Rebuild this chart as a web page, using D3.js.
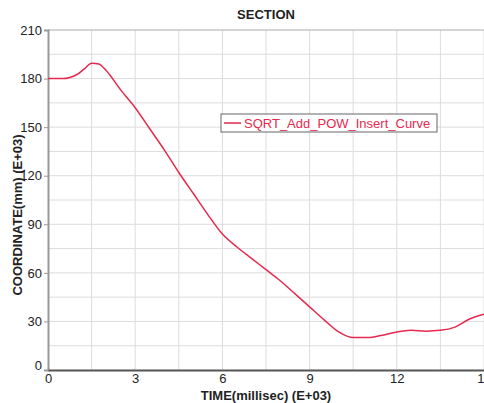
<!DOCTYPE html>
<html>
<head>
<meta charset="utf-8">
<script src="https://cdn.jsdelivr.net/npm/d3@7"></script>
<style>
  body { margin: 0; background: #fff; }
  svg { font-family: "Liberation Sans", Arial, sans-serif; display: block; }
</style>
</head>
<body>
<div id="chart"></div>
<script>
// Curve data (time in E+03 millisec, coordinate in E+03 mm)
const times = [0, 0.5, 1.0, 1.25, 1.5, 1.75, 2.0, 2.5, 3.0, 3.5, 4.0, 4.5, 5.0, 5.5, 6.0, 6.5, 7.0, 7.5,
    8.0, 8.5, 9.0, 9.5, 10.0, 10.5, 11.0, 11.5, 12.0, 12.5, 13.0, 13.5, 14.0, 14.5, 15.0];
const coords = [180, 180, 182.5, 186, 189.5, 189, 185, 173, 162, 149, 136, 122, 109, 96, 84, 76, 69, 62,
    55, 47, 39, 31, 23.5, 20, 20, 21.5, 23.5, 24.5, 24, 24.5, 26.5, 31.5, 34.5];
const xTicks = [0, 3, 6, 9, 12, 15];
const yTicks = [0, 30, 60, 90, 120, 150, 180, 210];
const seriesName = "SQRT_Add_POW_Insert_Curve";

const W = 484, H = 403;
const margin = {top: 30, right: 0, bottom: 33, left: 48};
const width = W - margin.left - margin.right;
const height = H - margin.top - margin.bottom;

const svg = d3.select("#chart").append("svg")
    .attr("width", W)
    .attr("height", H);

const g = svg.append("g")
    .attr("transform", `translate(${margin.left},${margin.top})`);

const x = d3.scaleLinear().domain([0, 15]).range([0, width]);
const y = d3.scaleLinear().domain([0, 210]).range([height, 0]);

// Grid (major + minor)
g.append("g").selectAll("line")
    .data(d3.range(1.5, 15.01, 1.5))
    .enter().append("line")
    .attr("x1", d => x(d)).attr("x2", d => x(d))
    .attr("y1", 0).attr("y2", height)
    .attr("stroke", "#dcdcdc");

g.append("g").selectAll("line")
    .data(d3.range(15, 210, 15))
    .enter().append("line")
    .attr("x1", 0).attr("x2", width)
    .attr("y1", d => y(d)).attr("y2", d => y(d))
    .attr("stroke", "#dcdcdc");

// Top border
g.append("line")
    .attr("x1", 0).attr("x2", width)
    .attr("y1", 0).attr("y2", 0)
    .attr("stroke", "#aaa");

// Y axis
const yAxis = g.append("g")
    .call(d3.axisLeft(y).tickValues(yTicks).tickSize(4).tickPadding(2));
yAxis.select(".domain").attr("stroke", "#999").attr("stroke-width", 2);
yAxis.selectAll(".tick line").attr("stroke", "#999");
yAxis.selectAll(".tick text")
    .style("font-size", "13px").attr("fill", "#222");
yAxis.selectAll(".tick").filter(d => d === 0).select("text").attr("dy", "-0.05em");

// X axis
const xAxis = g.append("g")
    .attr("transform", `translate(0,${height})`)
    .call(d3.axisBottom(x).tickValues(xTicks).tickSize(0).tickPadding(4));
xAxis.select(".domain").attr("stroke", "#555").attr("stroke-width", 2);
xAxis.selectAll(".tick text")
    .style("font-size", "13px").attr("fill", "#222");

// Curve
const line = d3.line()
    .x((d, i) => x(times[i]))
    .y(d => y(d))
    .curve(d3.curveMonotoneX);

g.append("path")
    .datum(coords)
    .attr("d", line)
    .attr("fill", "none")
    .attr("stroke", "#e5294f")
    .attr("stroke-width", 1.5);

// Legend
const legend = svg.append("g").attr("transform", "translate(221,114)");
legend.append("rect")
    .attr("width", 216).attr("height", 18)
    .attr("fill", "#fff")
    .attr("stroke", "#666");
legend.append("line")
    .attr("x1", 3).attr("x2", 20)
    .attr("y1", 9).attr("y2", 9)
    .attr("stroke", "#e5294f").attr("stroke-width", 1.5);
legend.append("text")
    .attr("x", 23).attr("y", 9).attr("dy", "0.36em")
    .attr("fill", "#e5294f")
    .style("font-size", "13px")
    .text(seriesName);

// Title and axis labels
svg.append("text")
    .attr("x", margin.left + width / 2).attr("y", 19)
    .attr("text-anchor", "middle")
    .style("font-size", "13px").style("font-weight", "bold")
    .attr("fill", "#222")
    .text("SECTION");

svg.append("text")
    .attr("x", margin.left + width / 2).attr("y", 400)
    .attr("text-anchor", "middle")
    .style("font-size", "13px").style("font-weight", "bold")
    .attr("fill", "#222")
    .text("TIME(millisec) (E+03)");

svg.append("text")
    .attr("transform", `translate(17,${margin.top + height / 2 + 15}) rotate(-90)`)
    .attr("text-anchor", "middle")
    .attr("dy", "0.35em")
    .style("font-size", "13px").style("font-weight", "bold")
    .attr("fill", "#222")
    .text("COORDINATE(mm) (E+03)");
</script>
</body>
</html>
